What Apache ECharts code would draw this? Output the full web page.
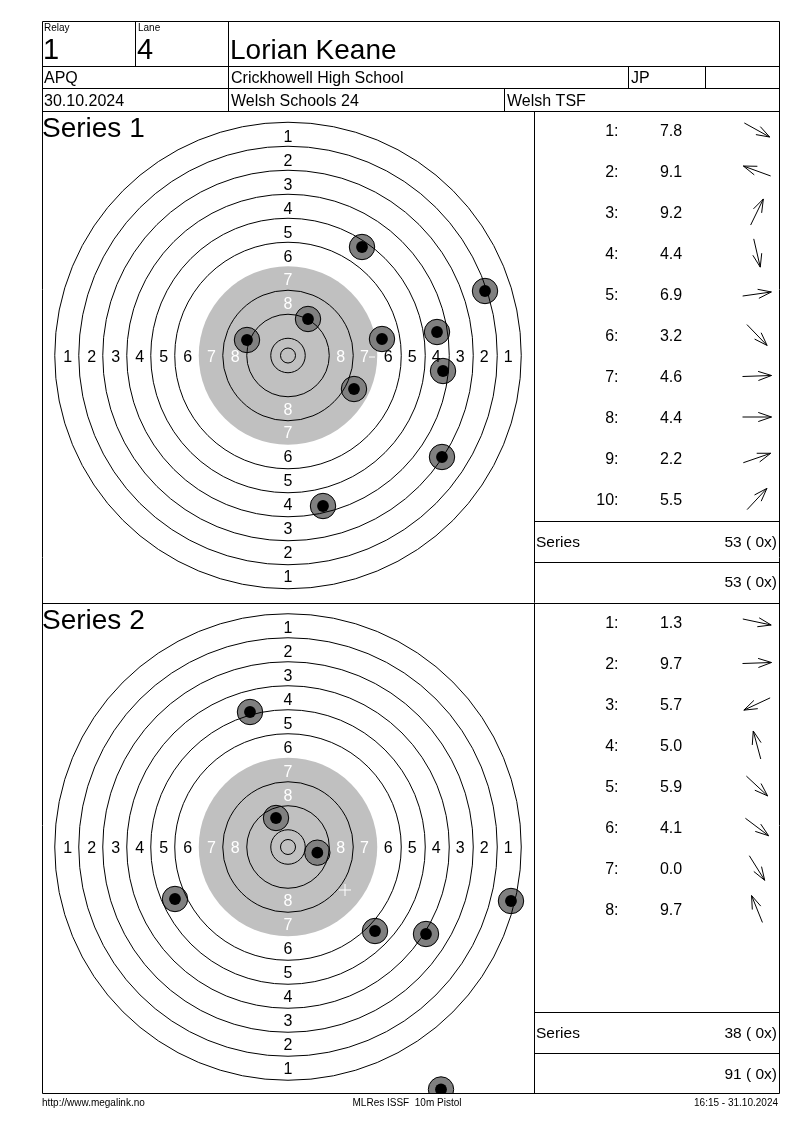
<!DOCTYPE html>
<html><head><meta charset="utf-8">
<script src="https://cdn.jsdelivr.net/npm/echarts@6/dist/echarts.min.js"></script>
<style>html,body{margin:0;padding:0;background:#fff}#c{width:800px;height:1130px}</style>
</head><body><div id="c"></div>
<script>
// ---- header data ----
const relay = '1', lane = '4';
const shooterName = 'Lorian Keane';
const className = 'APQ', club = 'Crickhowell High School', nation = 'JP';
const matchDate = '30.10.2024', competition = 'Welsh Schools 24', organiser = 'Welsh TSF';
const seriesTitles = ['Series 1', 'Series 2'];
const seriesTotals = ['53 ( 0x)', '38 ( 0x)'];
const runningTotals = ['53 ( 0x)', '91 ( 0x)'];
const footerLeft = 'http://www.megalink.no', footerMid = 'MLRes ISSF  10m Pistol', footerRight = '16:15 - 31.10.2024';

// ---- target geometry (mm) ----
const ringRadii = [77.75, 69.75, 61.75, 53.75, 45.75, 37.75, 21.75, 13.75, 5.75, 2.5];
const blackRadius = 29.75;
const ringLabelNums = [1, 2, 3, 4, 5, 6, 7, 8];
const ringLabelRadii = [73.4, 65.4, 57.4, 49.4, 41.4, 33.4, 25.5, 17.6];

// ---- series 1 ----
const s1Scores = [7.8, 9.1, 9.2, 4.4, 6.9, 3.2, 4.6, 4.4, 2.2, 5.5];
const s1Angles = [-29, 160, 64, -77, 8, -46, 2, 0, 19, 47];
const s1ShotX = [24.67, 65.67, 6.67, -13.67, 31.33, 49.67, 51.67, 22, 51.33, 11.67];
const s1ShotY = [36.17, 21.5, 12.17, 5.17, 5.5, 7.83, -5.17, -11.17, -33.83, -50.17];
// ---- series 2 ----
const s2Scores = [1.3, 9.7, 5.7, 5.0, 5.9, 4.1, 0.0, 9.7];
const s2Angles = [-12, 2, -155, 105, -43, -37, -58, 112];
const s2ShotX = [-12.67, -4, 9.78, -37.67, 29, 46, 74.33, 51];
const s2ShotY = [45, 9.67, -1.89, -17.33, -28, -29, -18, -80.83];
// mean markers
const s1MarkX = [28], s1MarkY = [-0.5];
const s2MarkX = [19], s2MarkY = [-14.33];

const FONT = 'Arial, "Liberation Sans", sans-serif';
const chart = echarts.init(document.getElementById('c'), null, {renderer: 'canvas'});

function ringLabelData() {
  const d = [];
  ringLabelNums.forEach((n, i) => {
    const r = ringLabelRadii[i];
    d.push([0, r, n], [0, -r, n], [-r, 0, n], [r, 0, n]);
  });
  return d;
}
function discItem(params, api) {
  const c = api.coord([0, 0]);
  const r = api.size([api.value(2), 0])[0];
  return {type: 'circle', shape: {cx: c[0], cy: c[1], r: r}, style: {fill: '#c0c0c0'}};
}
function ringItem(params, api) {
  const c = api.coord([0, 0]);
  const r = api.size([api.value(2), 0])[0];
  return {type: 'circle', shape: {cx: c[0], cy: c[1], r: r}, style: {fill: null, stroke: '#000', lineWidth: 1}};
}
function labelItem(params, api) {
  const p = api.coord([api.value(0), api.value(1)]);
  const n = api.value(2);
  return {type: 'text', x: p[0], y: p[1] + 2, style: {text: String(n), fill: n >= 7 ? '#fff' : '#000', font: '16px ' + FONT, align: 'center', verticalAlign: 'middle'}};
}
function shotItem(params, api) {
  const p = api.coord([api.value(0), api.value(1)]);
  return {type: 'group', children: [
    {type: 'circle', shape: {cx: p[0], cy: p[1], r: 12.7}, style: {fill: '#808080', stroke: '#000', lineWidth: 1}},
    {type: 'circle', shape: {cx: p[0], cy: p[1], r: 5.9}, style: {fill: '#000'}}
  ]};
}
function dashItem(params, api) {
  const q = api.coord([api.value(0), api.value(1)]);
  return {type: 'line', shape: {x1: q[0] - 3, y1: q[1], x2: q[0] + 3, y2: q[1]}, style: {stroke: '#fff', lineWidth: 1}};
}
function plusItem(params, api) {
  const q = api.coord([api.value(0), api.value(1)]);
  return {type: 'group', children: [
    {type: 'line', shape: {x1: q[0] - 6, y1: q[1], x2: q[0] + 6, y2: q[1]}, style: {stroke: '#fff', lineWidth: 1}},
    {type: 'line', shape: {x1: q[0], y1: q[1] - 6, x2: q[0], y2: q[1] + 6}, style: {stroke: '#fff', lineWidth: 1}}]};
}
function listItem(params, api) {
  const row = api.value(0), score = api.value(1), ang = api.value(2) * Math.PI / 180;
  const pl = api.coord([84.5, row]), ps = api.coord([137, row]), pa = api.coord([223, row]);
  const L = 29, H = 14, ha = 19 * Math.PI / 180;
  const dx = Math.cos(ang) * L / 2, dy = -Math.sin(ang) * L / 2;
  const tx = pa[0] + dx, ty = pa[1] + dy;
  const back = Math.atan2(-dy, -dx);
  return {type: 'group', children: [
    {type: 'text', x: pl[0], y: pl[1] + 2, style: {text: row + ':', fill: '#000', font: '16px ' + FONT, align: 'right', verticalAlign: 'middle'}},
    {type: 'text', x: ps[0], y: ps[1] + 2, style: {text: score.toFixed(1), fill: '#000', font: '16px ' + FONT, align: 'center', verticalAlign: 'middle'}},
    {type: 'line', shape: {x1: pa[0] - dx, y1: pa[1] - dy, x2: tx, y2: ty}, style: {stroke: '#000', lineWidth: 1}},
    {type: 'line', shape: {x1: tx, y1: ty, x2: tx + Math.cos(back + ha) * H, y2: ty + Math.sin(back + ha) * H}, style: {stroke: '#000', lineWidth: 1}},
    {type: 'line', shape: {x1: tx, y1: ty, x2: tx + Math.cos(back - ha) * H, y2: ty + Math.sin(back - ha) * H}, style: {stroke: '#000', lineWidth: 1}}
  ]};
}
function zip(a, b) { return a.map((v, i) => [v, b[i]]); }
function listData(scores, angles) { return scores.map((s, i) => [i + 1, s, angles[i]]); }

// target centres in px: (288, 355.5) and (288, 847); scale 3 px/mm
const grids = [
  {left: 42, top: 111.5, width: 492, height: 491},
  {left: 42, top: 603.5, width: 492, height: 490},
  {left: 534, top: 109.5, width: 245, height: 410},
  {left: 534, top: 601.5, width: 245, height: 410}
];
const xAxes = [
  {gridIndex: 0, type: 'value', min: -82, max: 82, show: false},
  {gridIndex: 1, type: 'value', min: -82, max: 82, show: false},
  {gridIndex: 2, type: 'value', min: 0, max: 245, show: false},
  {gridIndex: 3, type: 'value', min: 0, max: 245, show: false}
];
const yAxes = [
  {gridIndex: 0, type: 'value', min: (355.5 - 602.5) / 3, max: (355.5 - 111.5) / 3, show: false},
  {gridIndex: 1, type: 'value', min: (847 - 1093.5) / 3, max: (847 - 603.5) / 3, show: false},
  {gridIndex: 2, type: 'value', min: 0.5, max: 10.5, inverse: true, show: false},
  {gridIndex: 3, type: 'value', min: 0.5, max: 10.5, inverse: true, show: false}
];
function targetSeries(g, sx, sy, mx, my, markRender) {
  const ax = {xAxisIndex: g, yAxisIndex: g, type: 'custom', silent: true, encode: {x: 0, y: 1}};
  return [
    Object.assign({}, ax, {z: 1, data: [[0, 0, blackRadius]], renderItem: discItem}),
    Object.assign({}, ax, {z: 2, clip: true, data: zip(sx, sy), renderItem: shotItem}),
    Object.assign({}, ax, {z: 3, data: ringRadii.map(r => [0, 0, r]), renderItem: ringItem}),
    Object.assign({}, ax, {z: 4, data: ringLabelData(), renderItem: labelItem}),
    Object.assign({}, ax, {z: 5, data: zip(mx, my), renderItem: markRender})
  ];
}
const series = [].concat(
  targetSeries(0, s1ShotX, s1ShotY, s1MarkX, s1MarkY, dashItem),
  targetSeries(1, s2ShotX, s2ShotY, s2MarkX, s2MarkY, plusItem),
  [
    {type: 'custom', xAxisIndex: 2, yAxisIndex: 2, encode: {x: 1, y: 0}, silent: true, data: listData(s1Scores, s1Angles), renderItem: listItem},
    {type: 'custom', xAxisIndex: 3, yAxisIndex: 3, encode: {x: 1, y: 0}, silent: true, data: listData(s2Scores, s2Angles), renderItem: listItem}
  ]
);

// ---- table / layout graphics ----
const G = [];
function ln(x1, y1, x2, y2) { G.push({type: 'line', z: 100, shape: {x1, y1, x2, y2}, style: {stroke: '#000', lineWidth: 1}}); }
function tx(text, x, y, size, align) {
  G.push({type: 'text', z: 101, x, y, style: {text, font: size + 'px ' + FONT, fill: '#000', align: align || 'left', verticalAlign: 'middle'}});
}
// outer frame
ln(42.5, 21.5, 779.5, 21.5); ln(42.5, 1093.5, 779.5, 1093.5);
ln(42.5, 21.5, 42.5, 1093.5); ln(779.5, 21.5, 779.5, 1093.5);
// header rows
ln(42.5, 66.5, 779.5, 66.5); ln(42.5, 88.5, 779.5, 88.5); ln(42.5, 111.5, 779.5, 111.5);
ln(135.5, 21.5, 135.5, 66.5); ln(228.5, 21.5, 228.5, 111.5);
ln(628.5, 66.5, 628.5, 88.5); ln(705.5, 66.5, 705.5, 88.5); ln(504.5, 88.5, 504.5, 111.5);
// panels
ln(42.5, 603.5, 779.5, 603.5); ln(534.5, 111.5, 534.5, 1093.5);
ln(534.5, 521.5, 779.5, 521.5); ln(534.5, 562.5, 779.5, 562.5);
ln(534.5, 1012.5, 779.5, 1012.5); ln(534.5, 1053.5, 779.5, 1053.5);
// white cover below frame (clips overflowing shot)
G.push({type: 'rect', z: 99, shape: {x: 0, y: 1094, width: 800, height: 36}, style: {fill: '#fff'}});
// header texts
tx('Relay', 44, 28, 10); tx('Lane', 138, 28, 10);
tx(relay, 43, 51, 29); tx(lane, 137, 51, 29);
tx(shooterName, 230, 51, 28);
tx(className, 44, 79, 16); tx(club, 231, 79, 16); tx(nation, 631, 79, 16);
tx(matchDate, 44, 101.5, 16); tx(competition, 231, 101.5, 16); tx(organiser, 507, 101.5, 16);
// series titles & totals
tx(seriesTitles[0], 42, 129, 28); tx(seriesTitles[1], 42, 621, 28);
tx('Series', 536, 542.5, 15.5); tx(seriesTotals[0], 777, 542.5, 15.5, 'right'); tx(runningTotals[0], 777, 582.5, 15.5, 'right');
tx('Series', 536, 1033.5, 15.5); tx(seriesTotals[1], 777, 1033.5, 15.5, 'right'); tx(runningTotals[1], 777, 1074.5, 15.5, 'right');
// footer
tx(footerLeft, 42, 1103, 10); tx(footerMid, 407, 1103, 10, 'center'); tx(footerRight, 778, 1103, 10, 'right');

chart.setOption({
  animation: false,
  backgroundColor: '#fff',
  grid: grids, xAxis: xAxes, yAxis: yAxes,
  series: series,
  graphic: {elements: G}
});
</script></body></html>
